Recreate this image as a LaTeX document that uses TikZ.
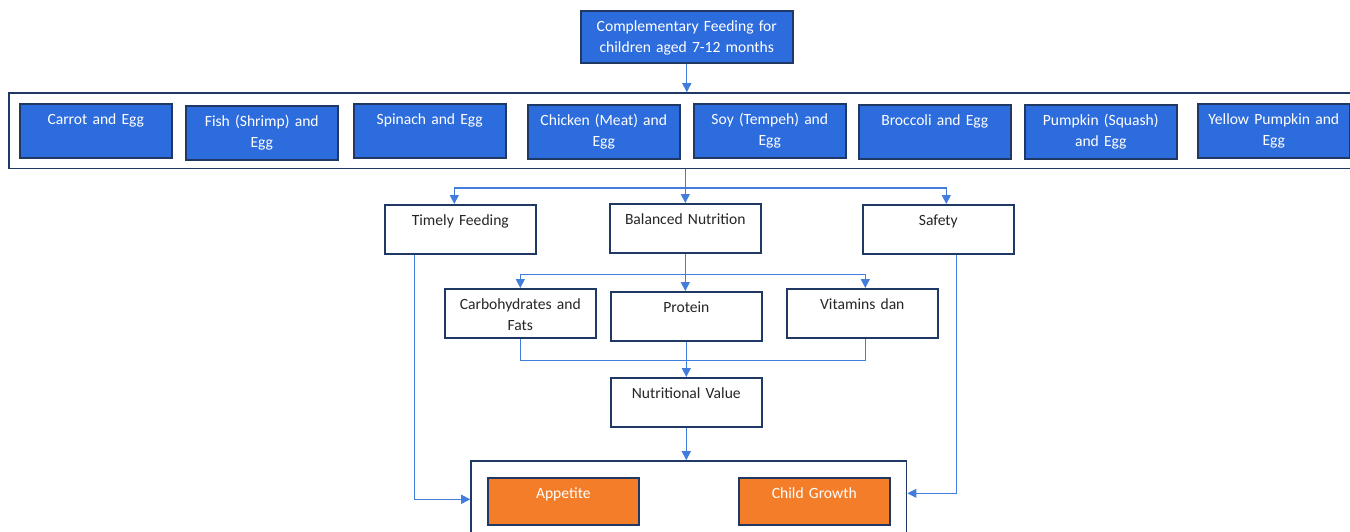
\documentclass[tikz,border=0pt]{standalone}
\usepackage{fontspec}
\setmainfont{Carlito}
\usetikzlibrary{arrows.meta,fit}

\definecolor{boxblue}{RGB}{45,108,220}
\definecolor{navyline}{RGB}{31,56,100}
\definecolor{linkblue}{RGB}{66,125,222}
\definecolor{boxorange}{RGB}{244,125,42}
\definecolor{darktext}{RGB}{38,38,38}

\begin{document}
\begin{tikzpicture}[
    x=0.5pt, y=-0.5pt,
    linkstyle/.style={draw=linkblue, line width=0.55pt},
    arrowstyle/.style={draw=linkblue, line width=0.55pt, -{Triangle[length=4.5pt,width=4.5pt]}},
    basebox/.style={rectangle, draw=navyline, line width=0.8pt, inner sep=0pt,
        align=center, anchor=north west, text height=10.5pt,
        font=\fontsize{7.8pt}{10.3pt}\selectfont},
    feeding/.style={basebox, fill=boxblue, text=white, text width=106pt, text depth=15.5pt},
    food/.style={basebox, fill=boxblue, text=white, text width=76pt, text depth=16.5pt},
    factor/.style={basebox, fill=white, text=darktext, text width=75.5pt, text depth=14pt},
    outcome/.style={basebox, fill=boxorange, text=white, text width=75.5pt, text depth=13pt},
    frame/.style={rectangle, draw=navyline, line width=0.8pt}
]
\useasboundingbox (0,0) rectangle (1350,531);
\clip (0,0) rectangle (1350,531);

% top box
\node (Feeding) [feeding] at (580,10) {Complementary Feeding for\\children aged 7-12 months};

% menu row
\node (Menu01) [food] at (19,103) {Carrot and Egg};
\node (Menu02) [food] at (185,105) {Fish (Shrimp) and\\Egg};
\node (Menu03) [food] at (353,103) {Spinach and Egg};
\node (Menu04) [food] at (527,104) {Chicken (Meat) and\\Egg};
\node (Menu05) [food] at (693,103) {Soy (Tempeh) and\\Egg};
\node (Menu06) [food] at (858,104) {Broccoli and Egg};
\node (Menu07) [food] at (1024,104) {Pumpkin (Squash)\\and Egg};
\node (Menu08) [food] at (1197,103) {Yellow Pumpkin and\\Egg};
\node (FoodFrame) [frame, fit=(Menu01)(Menu08), inner sep=5pt] {};

% principles
\node (Timely) [factor] at (384,204) {Timely Feeding};
\node (Balanced) [factor] at (609,203) {Balanced Nutrition};
\node (Safety) [factor] at (862,204) {Safety};

% nutrients
\node (Carbo) [factor] at (444,288) {Carbohydrates and\\Fats};
\node (Protein) [factor] at (610,291) {Protein};
\node (Vitamins) [factor] at (786,288) {Vitamins dan};
\node (Nutritional) [factor] at (610,377) {Nutritional Value};

% outcomes
\node (Appetite) [outcome] at (487,477) {Appetite};
\node (Growth) [outcome] at (738,477) {Child Growth};
\node (OutcomeFrame) [frame, fit=(Appetite)(Growth), inner sep=8pt] {};

\path (Balanced.north) ++(0,-15) coordinate (Split01);
\path (Balanced.south) ++(0,21) coordinate (Split02);
\path (Protein.south) ++(0,19) coordinate (Join01);

\draw[arrowstyle] (Feeding.south) -- (Feeding.south |- FoodFrame.north);
\draw[linkstyle] (Split01 |- FoodFrame.south) -- (Split01);
\draw[arrowstyle] (Split01) -| ([xshift=-3pt]Timely.north);
\draw[arrowstyle] (Split01) -- (Balanced.north);
\draw[arrowstyle] (Split01) -| ([xshift=4pt]Safety.north);

\draw[linkstyle] (Balanced.south) -- (Split02);
\draw[arrowstyle] (Split02) -| (Carbo.north);
\draw[arrowstyle] (Split02) -- (Split02 |- Protein.north);
\draw[arrowstyle] (Split02) -| ([xshift=1.5pt]Vitamins.north);

\draw[linkstyle] (Carbo.south) |- (Join01) -| ([xshift=1.5pt]Vitamins.south);
\draw[arrowstyle] (Protein.south) -- (Nutritional.north);
\draw[arrowstyle] (Nutritional.south) -- (Nutritional.south |- OutcomeFrame.north);

\draw[arrowstyle] ([xshift=-23pt]Timely.south) |- ([yshift=1pt]OutcomeFrame.west);
\draw[arrowstyle] ([xshift=9pt]Safety.south) |- ([yshift=4pt]OutcomeFrame.east);
\end{tikzpicture}
\end{document}
